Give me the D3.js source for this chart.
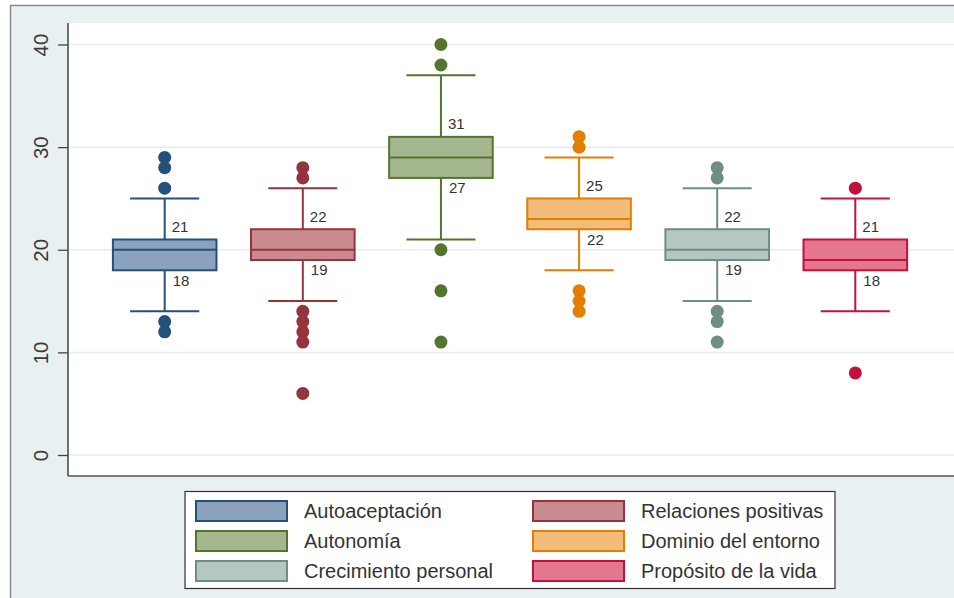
<!DOCTYPE html>
<html>
<head>
<meta charset="utf-8">
<script src="https://cdn.jsdelivr.net/npm/d3@7"></script>
<style>
  html, body { margin: 0; padding: 0; background: #ffffff; }
  svg { display: block; font-family: "Liberation Sans", Arial, sans-serif; }
</style>
</head>
<body>
<svg id="chart" width="954" height="598"></svg>
<script>
// ---- data ----
const categories = ["Autoaceptación", "Relaciones positivas", "Autonomía",
                    "Dominio del entorno", "Crecimiento personal", "Propósito de la vida"];
const whiskerLow  = [14, 15, 21, 18, 15, 14];
const q1          = [18, 19, 27, 22, 19, 18];
const median      = [20, 20, 29, 23, 20, 19];
const q3          = [21, 22, 31, 25, 22, 21];
const whiskerHigh = [25, 26, 37, 29, 26, 25];
const outliers = [
  [29, 28, 26, 13, 12],
  [28, 27, 14, 13, 12, 11, 6],
  [40, 38, 20, 16, 11],
  [31, 30, 16, 15, 14],
  [28, 27, 14, 13, 11],
  [26, 8]
];
const yTicks = [0, 10, 20, 30, 40];
const lineColors = ["#24507c", "#95343d", "#55752f", "#e37e00", "#6e8e84", "#c4103f"];
const fillColors = ["#8ca2bc", "#c98a90", "#a4b78e", "#f2bc7a", "#b5c7c1", "#e3778f"];
// legend order (two columns, three rows)
const legendOrder = [0, 1, 2, 3, 4, 5];

// ---- layout ----
const svg = d3.select("#chart");
const plot = { left: 68, right: 954, top: 23, bottom: 476 };

// outer frame
svg.append("rect").attr("x", 10.5).attr("y", 5.5).attr("width", 980).attr("height", 620)
  .attr("fill", "#e8f0f2").attr("stroke", "#8a8a8a").attr("stroke-width", 1.5);

// plot region
svg.append("rect").attr("x", plot.left).attr("y", plot.top)
  .attr("width", plot.right - plot.left).attr("height", plot.bottom - plot.top)
  .attr("fill", "#ffffff");

const y = d3.scaleLinear().domain([0, 40]).range([455, 44.5]);
const x = d3.scalePoint().domain(categories).range([plot.left, 952]).padding(0.7);
const step = x.step();
const boxW = step * 0.75;
const capW = step * 0.5;

// gridlines
svg.append("g").selectAll("line").data(yTicks).join("line")
  .attr("x1", plot.left).attr("x2", plot.right)
  .attr("y1", d => y(d)).attr("y2", d => y(d))
  .attr("stroke", "#e6eef0").attr("stroke-width", 1.5);

// y axis
const yAxis = svg.append("g").attr("transform", `translate(${plot.left},0)`)
  .call(d3.axisLeft(y).tickValues(yTicks).tickSize(10).tickFormat(d3.format("d")));
yAxis.select(".domain").remove();
yAxis.selectAll(".tick line").attr("stroke", "#444").attr("stroke-width", 1.3);
yAxis.selectAll(".tick text")
  .attr("x", null).attr("dy", null)
  .attr("transform", "translate(-27,0) rotate(-90)")
  .attr("text-anchor", "middle").attr("dy", "0.36em")
  .attr("font-size", 20.5).attr("fill", "#3a3a3a")
  .attr("font-family", "'Liberation Sans', Arial, sans-serif");

// axis lines
svg.append("line").attr("x1", plot.left).attr("x2", plot.left)
  .attr("y1", plot.top).attr("y2", plot.bottom)
  .attr("stroke", "#444").attr("stroke-width", 1.5);
svg.append("line").attr("x1", plot.left).attr("x2", plot.right)
  .attr("y1", plot.bottom).attr("y2", plot.bottom)
  .attr("stroke", "#555").attr("stroke-width", 1.5);

// boxes
const data = categories.map((c, i) => ({
  c, i, lo: whiskerLow[i], q1: q1[i], med: median[i], q3: q3[i], hi: whiskerHigh[i],
  out: outliers[i], stroke: lineColors[i], fill: fillColors[i]
}));

const g = svg.append("g").selectAll("g").data(data).join("g")
  .attr("transform", d => `translate(${x(d.c)},0)`);

// whiskers
g.append("line").attr("x1", 0).attr("x2", 0)
  .attr("y1", d => y(d.hi)).attr("y2", d => y(d.q3))
  .attr("stroke", d => d.stroke).attr("stroke-width", 2);
g.append("line").attr("x1", 0).attr("x2", 0)
  .attr("y1", d => y(d.q1)).attr("y2", d => y(d.lo))
  .attr("stroke", d => d.stroke).attr("stroke-width", 2);
// caps
g.append("line").attr("x1", -capW / 2).attr("x2", capW / 2)
  .attr("y1", d => y(d.hi)).attr("y2", d => y(d.hi))
  .attr("stroke", d => d.stroke).attr("stroke-width", 2);
g.append("line").attr("x1", -capW / 2).attr("x2", capW / 2)
  .attr("y1", d => y(d.lo)).attr("y2", d => y(d.lo))
  .attr("stroke", d => d.stroke).attr("stroke-width", 2);
// box
g.append("rect").attr("x", -boxW / 2).attr("width", boxW)
  .attr("y", d => y(d.q3)).attr("height", d => y(d.q1) - y(d.q3))
  .attr("fill", d => d.fill).attr("stroke", d => d.stroke).attr("stroke-width", 2);
// median
g.append("line").attr("x1", -boxW / 2).attr("x2", boxW / 2)
  .attr("y1", d => y(d.med)).attr("y2", d => y(d.med))
  .attr("stroke", d => d.stroke).attr("stroke-width", 2);
// outliers
g.each(function(d) {
  d3.select(this).selectAll("circle").data(d.out).join("circle")
    .attr("cx", 0).attr("cy", v => y(v)).attr("r", 6.5)
    .attr("fill", d.stroke);
});
// quartile labels
g.append("text").attr("x", 7).attr("y", d => y(d.q3) - 13).attr("dy", "0.36em")
  .attr("font-size", 15).attr("fill", "#333").text(d => d.q3);
g.append("text").attr("x", 8).attr("y", d => y(d.q1) + 10).attr("dy", "0.36em")
  .attr("font-size", 15).attr("fill", "#333").text(d => d.q1);

// legend
const legend = svg.append("g");
legend.append("rect").attr("x", 185).attr("y", 491.5).attr("width", 650).attr("height", 97)
  .attr("fill", "#ffffff").attr("stroke", "#333").attr("stroke-width", 1.2);
const colX = [196, 533];
const rowY = [511, 541, 571];
const items = legend.selectAll("g").data(legendOrder).join("g")
  .attr("transform", (d, k) => `translate(${colX[k % 2]},${rowY[Math.floor(k / 2)]})`);
items.append("rect").attr("x", 0).attr("y", -10).attr("width", 91).attr("height", 20)
  .attr("fill", d => fillColors[d]).attr("stroke", d => lineColors[d]).attr("stroke-width", 2);
items.append("text").attr("x", 108).attr("y", 0).attr("dy", "0.36em")
  .attr("font-size", 20).attr("fill", "#333").text(d => categories[d]);
</script>
</body>
</html>
